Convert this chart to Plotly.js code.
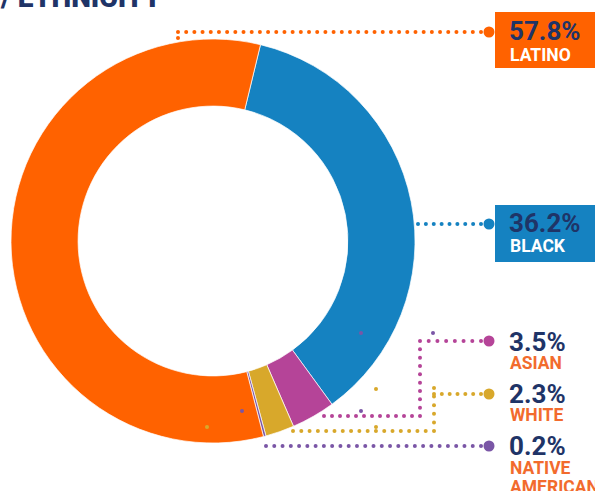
<!DOCTYPE html>
<html>
<head>
<meta charset="utf-8">
<script src="https://cdn.plot.ly/plotly-3.0.1.min.js"></script>
<style>html,body{margin:0;padding:0;background:#fff;}#chart{width:595px;height:491px;}</style>
</head>
<body>
<div id="chart"></div>
<script>
// ---- data ----
const categories = ['BLACK', 'ASIAN', 'WHITE', 'NATIVE AMERICAN', 'LATINO'];
const labelLines = [['BLACK'], ['ASIAN'], ['WHITE'], ['NATIVE', 'AMERICAN'], ['LATINO']];
const values = [36.2, 3.5, 2.3, 0.2, 57.8];
const sliceColors = ['#1582c1', '#b54498', '#d8a82b', '#7a56a6', '#ff6200'];
const titleText = 'RACE / ETHNICITY';

// ---- layout helpers ----
const W = 595, H = 491;
const px = x => x / W;
const py = y => 1 - y / H;
const navy = '#1f3467';
const catOrange = '#f26b2d';
const FONT = 'Roboto, "Open Sans", sans-serif';

// donut geometry (pixels)
const cx = 213, cy = 241, R = 202;

const pie = {
  type: 'pie',
  labels: categories,
  values: values,
  sort: false,
  direction: 'clockwise',
  rotation: 13.6,
  hole: 0.668,
  textinfo: 'none',
  hoverinfo: 'label+percent',
  showlegend: false,
  marker: { colors: sliceColors, line: { color: '#ffffff', width: 0.7 } },
  domain: { x: [px(cx - R), px(cx + R)], y: [py(cy + R), py(cy - R)] }
};

// leader line paths (pixel coords), one per category, in same order
const leaderPaths = [
  [[418, 224], [481, 224]],
  [[324, 416], [420, 416], [420, 341], [481, 341]],
  [[293, 431], [434, 431], [434, 388], [434, 394], [481, 394]],
  [[266, 446], [481, 446]],
  [[178, 38], [178, 32], [481, 32]]
];
const endY = [224, 341, 394, 446, 32];
const strayDots = [
  [361, 333, 3], [433, 333, 3], [361, 411, 3], [242, 411, 3],
  [376, 389, 2], [376, 427, 2], [207, 427, 2]
];

const shapes = [];
function dot(x, y, r, color) {
  shapes.push({
    type: 'circle', xref: 'paper', yref: 'paper',
    xsizemode: 'pixel', ysizemode: 'pixel',
    xanchor: px(x), yanchor: py(y),
    x0: -r, x1: r, y0: -r, y1: r,
    fillcolor: color, line: { width: 0 }, layer: 'above'
  });
}
function rect(x0, y0, x1, y1, color) {
  shapes.push({
    type: 'rect', xref: 'paper', yref: 'paper',
    x0: px(x0), x1: px(x1), y0: py(y1), y1: py(y0),
    fillcolor: color, line: { width: 0 }, layer: 'below'
  });
}

leaderPaths.forEach((path, i) => {
  const col = sliceColors[i];
  for (let s = 0; s < path.length - 1; s++) {
    const [x0, y0] = path[s], [x1, y1] = path[s + 1];
    const len = Math.hypot(x1 - x0, y1 - y0);
    if (len < 1) continue;
    const n = Math.max(1, Math.round(len / 8.2));
    for (let k = (s === 0 ? 0 : 1); k <= n; k++) {
      const t = k / n;
      dot(x0 + (x1 - x0) * t, y0 + (y1 - y0) * t, 2, col);
    }
  }
  dot(489, endY[i], 5.5, col);
});
strayDots.forEach(([x, y, c]) => dot(x, y, 2, sliceColors[c]));

// label boxes for the two big groups
rect(495, 12, 600, 68, sliceColors[4]);
rect(495, 205, 600, 262, sliceColors[0]);

const annotations = [];
function txt(text, x, y, size, color, anchor) {
  annotations.push({
    text: text, xref: 'paper', yref: 'paper', x: px(x), y: py(y),
    xanchor: anchor || 'left', yanchor: 'middle', showarrow: false,
    font: { family: FONT, size: size, color: color, weight: 700 },
    borderpad: 0
  });
}
// percentage + category labels
const pctY = [222.5, 341.5, 394, 446, 31];
const catY = [[246], [363], [415], [468, 487], [55.5]];
const boxed = [true, false, false, false, true];
values.forEach((v, i) => {
  txt(v.toFixed(1) + '%', 508, pctY[i], 26, navy);
  labelLines[i].forEach((line, j) => {
    txt(line, 509, catY[i][j], 17.5, boxed[i] ? '#ffffff' : catOrange);
  });
});
// clipped title at top
annotations.push({
  text: titleText, xref: 'paper', yref: 'paper', x: px(164), y: py(8),
  xanchor: 'right', yanchor: 'bottom', showarrow: false, yshift: -8,
  font: { family: FONT, size: 28, color: navy, weight: 900 }
});

const layout = {
  width: W, height: H,
  margin: { l: 0, r: 0, t: 0, b: 0 },
  paper_bgcolor: '#ffffff', plot_bgcolor: '#ffffff',
  showlegend: false,
  shapes: shapes,
  annotations: annotations
};

Plotly.newPlot('chart', [pie], layout, { displayModeBar: false, staticPlot: true });
</script>
</body>
</html>
